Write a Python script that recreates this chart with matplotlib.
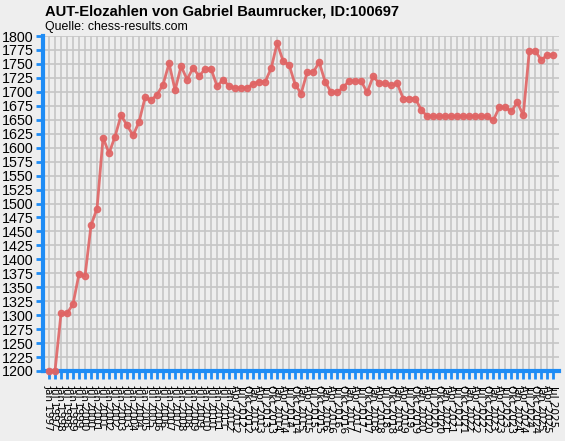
import matplotlib
matplotlib.use("Agg")
import matplotlib.pyplot as plt

title = "AUT-Elozahlen von Gabriel Baumrucker, ID:100697"
subtitle = "Quelle: chess-results.com"

dates = [
    "Jan 1997", "Jul 1997", "Jan 1998", "Jul 1998", "Jan 1999", "Jul 1999",
    "Jan 2000", "Jul 2000", "Jan 2001", "Jul 2001", "Jan 2002", "Jul 2002",
    "Jan 2003", "Jul 2003", "Jan 2004", "Jul 2004", "Jan 2005", "Jul 2005",
    "Jan 2006", "Jul 2006", "Jan 2007", "Jul 2007", "Jan 2008", "Jul 2008",
    "Jan 2009", "Jul 2009", "Jan 2010", "Jul 2010", "Jan 2011", "Jul 2011",
    "Jan 2012", "Apr 2012", "Jul 2012", "Okt 2012",
    "Jan 2013", "Apr 2013", "Jul 2013", "Okt 2013",
    "Jan 2014", "Apr 2014", "Jul 2014", "Okt 2014",
    "Jan 2015", "Apr 2015", "Jul 2015", "Okt 2015",
    "Jan 2016", "Apr 2016", "Jul 2016", "Okt 2016",
    "Jan 2017", "Apr 2017", "Jul 2017", "Okt 2017",
    "Jan 2018", "Apr 2018", "Jul 2018", "Okt 2018",
    "Jan 2019", "Apr 2019", "Jul 2019", "Okt 2019",
    "Jan 2020", "Apr 2020", "Jul 2020", "Okt 2020",
    "Jan 2021", "Apr 2021", "Jul 2021", "Okt 2021",
    "Jan 2022", "Apr 2022", "Jul 2022", "Okt 2022",
    "Jan 2023", "Apr 2023", "Jul 2023", "Okt 2023",
    "Jan 2024", "Apr 2024", "Jul 2024", "Okt 2024",
    "Jan 2025", "Apr 2025", "Jul 2025",
]

elo = [
    1200, 1200, 1303, 1303, 1320, 1374, 1370, 1461, 1491, 1618,
    1590, 1620, 1658, 1640, 1622, 1646, 1690, 1685, 1695, 1713,
    1751, 1703, 1746, 1722, 1743, 1728, 1741, 1741, 1710, 1722,
    1710, 1707, 1707, 1707, 1714, 1718, 1718, 1742, 1787, 1755,
    1748, 1713, 1697, 1735, 1735, 1753, 1718, 1699, 1699, 1708,
    1720, 1719, 1719, 1699, 1728, 1715, 1715, 1712, 1715, 1688,
    1688, 1688, 1668, 1656, 1656, 1656, 1656, 1656, 1656, 1656,
    1656, 1656, 1656, 1656, 1649, 1672, 1672, 1665, 1681, 1658,
    1773, 1773, 1757, 1766, 1766,
]

y_ticks = list(range(1200, 1801, 25))

bg = "#eeeeee"
grid_c = "#c6c6c6"
blue = "#1e8cf5"
line_c = "#e06464"

fig = plt.figure(figsize=(5.65, 4.41), dpi=100, facecolor=bg)
ax = fig.add_axes([43 / 565, 70 / 441, (559.3 - 43) / 565, (371 - 36) / 441])
ax.set_facecolor(bg)

x = list(range(len(elo)))
ax.plot(x, elo, color=line_c, lw=2, marker="o", markersize=4.5,
        markerfacecolor=line_c, markeredgecolor=line_c, alpha=0.9,
        clip_on=False, zorder=5)

ax.set_xlim(-1, len(elo))
ax.set_ylim(1200, 1800)
ax.set_xticks(x)
ax.set_xticklabels(dates, rotation=-90, fontsize=7.5, family="DejaVu Sans",
                   va="top", ha="center")
ax.set_yticks(y_ticks)
ax.set_yticklabels([str(v) for v in y_ticks], fontsize=10.3, family="Liberation Sans")

ax.grid(True, color=grid_c, lw=1.2, zorder=0)
ax.set_axisbelow(True)

for s in ["top", "right"]:
    ax.spines[s].set_visible(False)
for s in ["left", "bottom"]:
    ax.spines[s].set_color(blue)
    ax.spines[s].set_linewidth(3)

ax.tick_params(axis="x", direction="out", length=6, width=2, color=blue, pad=4)
ax.tick_params(axis="y", direction="out", length=5, width=2, color=blue, pad=2)

fig.text(45 / 565, 1 - 11.5 / 441, title, fontsize=10.6, fontweight="bold",
         family="Liberation Sans", va="center", ha="left")
fig.text(45 / 565, 1 - 27 / 441, subtitle, fontsize=8.9,
         family="Liberation Sans", va="center", ha="left")

fig.savefig("out.png", dpi=100, facecolor=bg)
